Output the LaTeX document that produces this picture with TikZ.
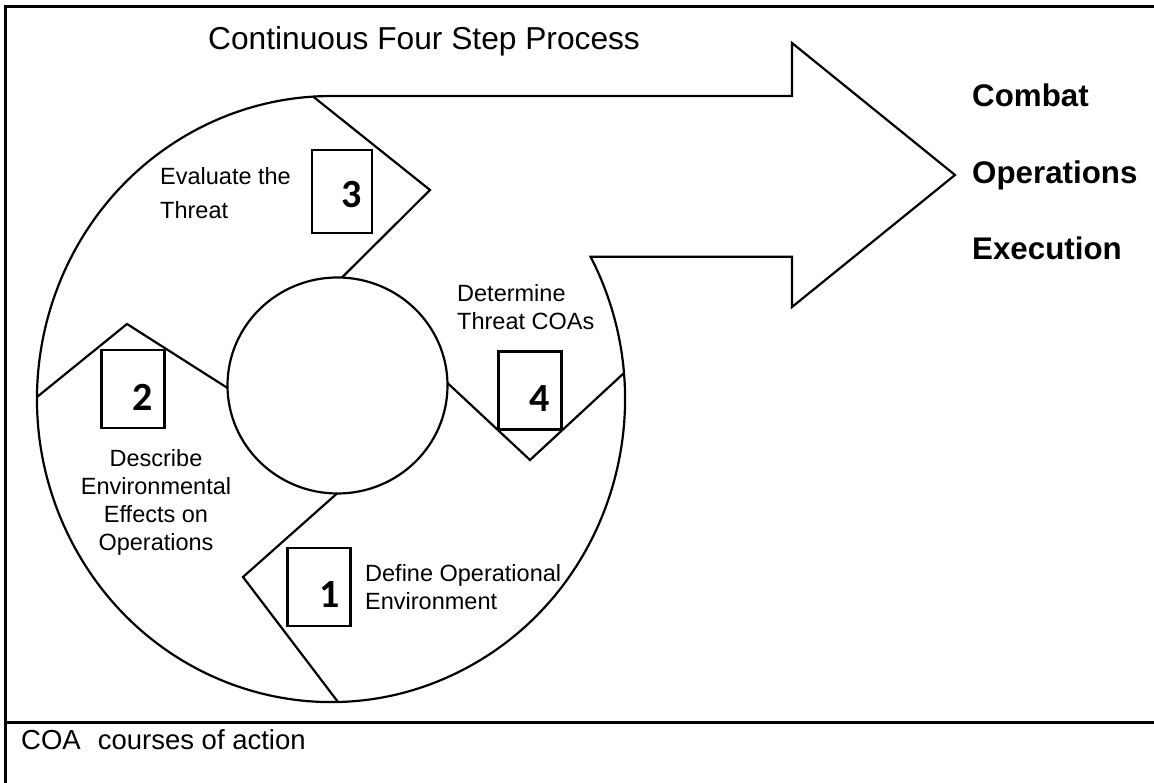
\documentclass[tikz,border=0pt]{standalone}
\usepackage{fontspec}
\setmainfont{Liberation Sans}
\newfontfamily\numfont{Carlito}
\begin{document}
\begin{tikzpicture}[x=1pt,y=1pt,
  line join=miter,
  shapeline/.style={draw=black, line width=2.2pt},
  frameline/.style={draw=black, line width=3pt},
  numbox/.style={draw=black, fill=white, line width=2.8pt, minimum width=63pt, minimum height=78pt, inner sep=0pt, outer sep=0pt},
  numtext/.style={font=\numfont\bfseries\fontsize{40}{40}\selectfont, inner sep=0pt},
  steptext/.style={font=\fontsize{23.5}{28}\selectfont, inner sep=0pt},
  titletext/.style={font=\fontsize{31.7}{36}\selectfont, inner sep=0pt},
  outtext/.style={font=\bfseries\fontsize{31.3}{36}\selectfont, inner sep=0pt},
  notetext/.style={font=\fontsize{27.5}{32}\selectfont, inner sep=0pt},
]
\fill[white] (0,0) rectangle (1154,783);
\useasboundingbox (0,0) rectangle (1154,783);

% frame
\coordinate (fBL) at (5,0);
\coordinate (fTL) at (5,776);
\coordinate (fTR) at (1154,776);
\coordinate (dL) at (5,60);
\coordinate (dR) at (1154,60);
\draw[frameline] (fBL) -- (fTL) -- (fTR);
\draw[frameline] (dL) -- (dR);

% outer ring merged with the arrow
\coordinate (shaftLow) at (590.6,526.2);
\coordinate (shaftTop) at (792,687);
\coordinate (headTop) at (792,740);
\coordinate (tip) at (955,608);
\coordinate (headBot) at (792,476);
\coordinate (shaftEnd) at (792,526.2);
\draw[shapeline] (shaftLow) arc[start angle=28, end angle=-270, x radius=294, y radius=303]
  -- (shaftTop) -- (headTop) -- (tip) -- (headBot) -- (shaftEnd) -- cycle;

% inner circle
\coordinate (ic) at (337.5,397.5);
\draw[shapeline] (ic) ellipse [x radius=110, y radius=108];

% chevron dividers
\coordinate (c3a) at (313,686.5);
\coordinate (c3b) at (430,593);
\coordinate (c3c) at (342,505.5);
\coordinate (c2a) at (37,386);
\coordinate (c2b) at (127,459);
\coordinate (c2c) at (227.5,395);
\coordinate (c1a) at (337,289.5);
\coordinate (c1b) at (243,206);
\coordinate (c1c) at (338,81);
\coordinate (c4a) at (447.5,400);
\coordinate (c4b) at (530,323);
\coordinate (c4c) at (624,410);
\draw[shapeline] (c3a) -- (c3b) -- (c3c);
\draw[shapeline] (c2a) -- (c2b) -- (c2c);
\draw[shapeline] (c1a) -- (c1b) -- (c1c);
\draw[shapeline] (c4a) -- (c4b) -- (c4c);

% numbered boxes
\node[numbox, minimum width=60pt, minimum height=83pt] (b3) at (342,591.5) {};
\node[numbox] (b2) at (133,394) {};
\node[numbox] (b4) at (530,392.5) {};
\node[numbox] (b1) at (319,196) {};
\node[numtext] (n3) at (352,588) {3};
\node[numtext] (n2) at (143,386) {2};
\node[numtext] (n4) at (540,384) {4};
\node[numtext] (n1) at (330,188) {1};

% texts
\node[titletext, anchor=base west] (title) at (208,733) {Continuous Four Step Process};
\node[steptext, anchor=base west] (t3a) at (160,598) {Evaluate the};
\node[steptext, anchor=base west] (t3b) at (160,564) {Threat};
\node[steptext, anchor=base] (t2a) at (156,316) {Describe};
\node[steptext, anchor=base] (t2b) at (156,288) {Environmental};
\node[steptext, anchor=base] (t2c) at (156,260) {Effects on};
\node[steptext, anchor=base] (t2d) at (156,232) {Operations};
\node[steptext, anchor=base west] (t4a) at (457,481) {Determine};
\node[steptext, anchor=base west] (t4b) at (457,453) {Threat COAs};
\node[steptext, anchor=base west] (t1a) at (365,201) {Define Operational};
\node[steptext, anchor=base west] (t1b) at (365,173) {Environment};
\node[outtext, anchor=base west] (o1) at (972,676) {Combat};
\node[outtext, anchor=base west] (o2) at (972,599) {Operations};
\node[outtext, anchor=base west] (o3) at (972,523) {Execution};
\node[notetext, anchor=base west] (note) at (21,33) {COA\hspace*{17pt}courses of action};
\end{tikzpicture}
\end{document}
